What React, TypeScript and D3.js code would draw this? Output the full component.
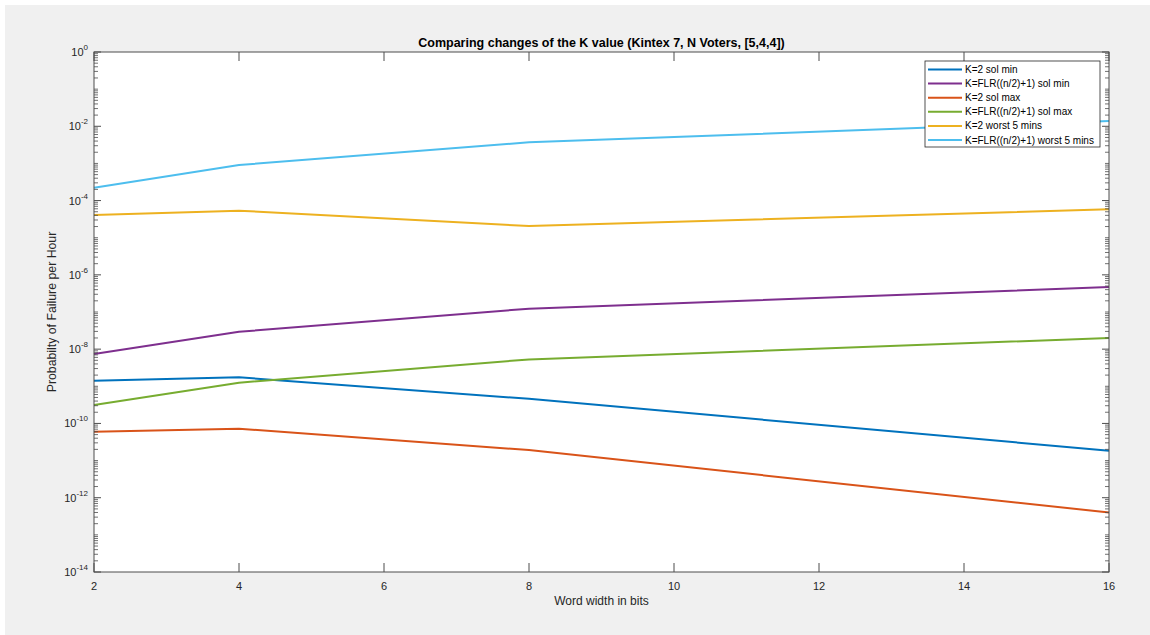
import React from 'react';
import * as d3 from 'd3';

// word widths (bits)
const widths = [2, 4, 8, 16];

// probability of failure per hour
const k2SolMin = [1.41e-9, 1.74e-9, 4.6e-10, 1.84e-11];
const flrSolMin = [7.4e-9, 2.94e-8, 1.23e-7, 4.7e-7];
const k2SolMax = [5.98e-11, 7.2e-11, 1.92e-11, 4.0e-13];
const flrSolMax = [3.13e-10, 1.25e-9, 5.3e-9, 2.0e-8];
const k2Worst5 = [4.08e-5, 5.33e-5, 2.06e-5, 5.8e-5];
const flrWorst5 = [2.22e-4, 9.06e-4, 3.7e-3, 1.39e-2];

const seriesNames = [
  'K=2 sol min',
  'K=FLR((n/2)+1) sol min',
  'K=2 sol max',
  'K=FLR((n/2)+1) sol max',
  'K=2 worst 5 mins',
  'K=FLR((n/2)+1) worst 5 mins',
];
const seriesColors = ['#0072BD', '#7E2F8E', '#D95319', '#77AC30', '#EDB120', '#4DBEEE'];
const seriesValues = [k2SolMin, flrSolMin, k2SolMax, flrSolMax, k2Worst5, flrWorst5];

const xTicks = [2, 4, 6, 8, 10, 12, 14, 16];
const yExponents = [0, -2, -4, -6, -8, -10, -12, -14];

const W = 1150;
const H = 635;
const left = 94, right = 1109, top = 52, bottom = 572;
const font = '"Liberation Sans", Arial, Helvetica, sans-serif';
const axisColor = '#4d4d4d';

export default function App() {
  const x = d3.scaleLinear().domain([2, 16]).range([left, right]);
  const y = d3.scaleLog().domain([1e-14, 1]).range([bottom, top]);

  const line = d3.line<[number, number]>()
    .x(d => x(d[0]))
    .y(d => y(d[1]));

  // minor ticks: every k*10^n, skipping the labelled decades
  let minor: number[] = [];
  for (let e = -14; e < 0; e++) {
    for (let k = 1; k <= 9; k++) {
      if (k === 1 && e % 2 === 0) continue;
      minor.push(k * Math.pow(10, e));
    }
  }

  const legendX = 925, legendY = 61, legendW = 175, legendH = 86;

  return (
    <svg width={W} height={H} style={{ position: 'absolute', left: 0, top: 0, display: 'block' }} fontFamily={font}>
      <rect x={0} y={0} width={W} height={H} fill='#ffffff' />
      <rect x={5} y={5} width={W - 5} height={H - 5} fill='#f0f0f0' />
      <rect x={left} y={top} width={right - left} height={bottom - top} fill='#ffffff' />

      {/* series */}
      {seriesValues.map((vals, i) => (
        <path key={i}
          d={line(widths.map((w, j) => [w, vals[j]] as [number, number])) || ''}
          fill='none' stroke={seriesColors[i]} strokeWidth={2} strokeLinejoin='round' />
      ))}

      {/* box */}
      <rect x={left} y={top} width={right - left} height={bottom - top} fill='none' stroke={axisColor} strokeWidth={1} />

      {/* x ticks */}
      {xTicks.map(t => (
        <g key={'x' + t}>
          <line x1={x(t)} x2={x(t)} y1={bottom} y2={bottom - 9} stroke={axisColor} />
          <line x1={x(t)} x2={x(t)} y1={top} y2={top + 9} stroke={axisColor} />
          <text x={x(t)} y={590} textAnchor='middle' fontSize={11} fill='#262626'>{t}</text>
        </g>
      ))}

      {/* y ticks */}
      {yExponents.map(e => (
        <g key={'y' + e}>
          <line x1={left} x2={left + 7} y1={y(Math.pow(10, e))} y2={y(Math.pow(10, e))} stroke={axisColor} />
          <line x1={right} x2={right - 7} y1={y(Math.pow(10, e))} y2={y(Math.pow(10, e))} stroke={axisColor} />
          <text x={left - 6} y={y(Math.pow(10, e)) + 4} textAnchor='end' fontSize={11} fill='#262626'>
            10<tspan fontSize={8} dy={-6}>{e}</tspan>
          </text>
        </g>
      ))}
      {minor.map((v, i) => (
        <g key={'m' + i}>
          <line x1={left} x2={left + 4} y1={y(v)} y2={y(v)} stroke={axisColor} strokeWidth={0.8} />
          <line x1={right} x2={right - 4} y1={y(v)} y2={y(v)} stroke={axisColor} strokeWidth={0.8} />
        </g>
      ))}

      {/* titles */}
      <text x={(left + right) / 2} y={47} textAnchor='middle' fontSize={12.5} fontWeight='bold' fill='#000'>
        Comparing changes of the K value (Kintex 7, N Voters, [5,4,4])
      </text>
      <text x={(left + right) / 2} y={605} textAnchor='middle' fontSize={12} fill='#262626'>Word width in bits</text>
      <text transform={`translate(56,${(top + bottom) / 2}) rotate(-90)`} textAnchor='middle' fontSize={12.3} fill='#262626'>
        Probabilty of Failure per Hour
      </text>

      {/* legend */}
      <rect x={legendX} y={legendY} width={legendW} height={legendH} fill='#ffffff' stroke='#262626' strokeWidth={0.8} />
      {seriesNames.map((name, i) => {
        const ly = 69.5 + i * 14.1;
        return (
          <g key={'l' + i}>
            <line x1={928} x2={962} y1={ly} y2={ly} stroke={seriesColors[i]} strokeWidth={2} />
            <text x={965} y={ly + 3.5} fontSize={10} fill='#000'>{name}</text>
          </g>
        );
      })}
    </svg>
  );
}
